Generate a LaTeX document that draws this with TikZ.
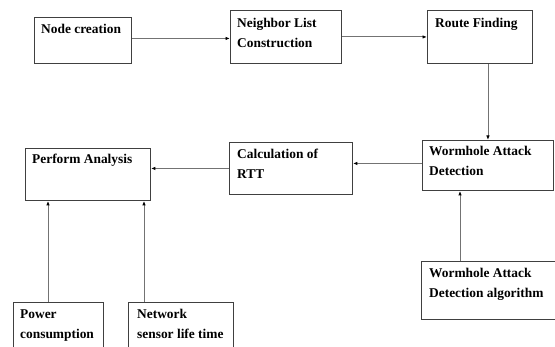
\documentclass[tikz,border=0pt]{standalone}
\usepackage{fontspec}
\setmainfont{Liberation Serif}
\usetikzlibrary{arrows.meta,calc}
\newcommand{\firststrut}{\rule{0pt}{9.5pt}}
\tikzset{
  box/.style={draw=black!75, line width=0.9pt, inner sep=0pt, anchor=north west},
  txt/.style={anchor=north west, inner sep=0pt, font=\fontsize{13.4}{20}\selectfont\bfseries, align=left},
  conn/.style={draw=black!55, line width=0.9pt, -{Latex[length=4.5pt,width=3.5pt,black]}}
}
\begin{document}
\begin{tikzpicture}[x=1pt,y=-1pt]
\useasboundingbox (0,0) rectangle (555,347);
\clip (0,0) rectangle (555,347);
\fill[white] (0,0) rectangle (555,347);
% boxes
\node[box, minimum width=97pt, minimum height=46pt] (nc) at (34,17) {};
\node[box, minimum width=111pt, minimum height=53pt] (nl) at (230,10) {};
\node[box, minimum width=105pt, minimum height=53pt] (rf) at (427,10) {};
\node[box, minimum width=131pt, minimum height=50pt] (wad) at (422,140) {};
\node[box, minimum width=123pt, minimum height=52pt] (rtt) at (229,142) {};
\node[box, minimum width=125pt, minimum height=52pt] (pa) at (25,148) {};
\node[box, minimum width=90pt, minimum height=60pt] (pc) at (13,302) {};
\node[box, minimum width=105pt, minimum height=60pt] (nw) at (128,302) {};
\node[box, minimum width=150pt, minimum height=58pt] (alg) at (421,261) {};
% texts (first baseline 9.5pt below the anchor)
\node[txt] (tnc) at ($(nc.north west)+(7,6.5)$) {\firststrut Node creation};
\node[txt] (tnl) at ($(nl.north west)+(7,7.5)$) {\firststrut Neighbor List\\Construction};
\node[txt] (trf) at ($(rf.north west)+(8,7.5)$) {\firststrut Route Finding};
\node[txt] (twad) at ($(wad.north west)+(7,5.5)$) {\firststrut Wormhole Attack\\Detection};
\node[txt] (trtt) at ($(rtt.north west)+(8,6.5)$) {\firststrut Calculation of\\RTT};
\node[txt] (tpa) at ($(pa.north west)+(7,5.5)$) {\firststrut Perform Analysis};
\node[txt] (tpc) at ($(pc.north west)+(7,6.5)$) {\firststrut Power\\consumption};
\node[txt] (tnw) at ($(nw.north west)+(9,6.5)$) {\firststrut Network\\sensor life time};
\node[txt] (talg) at ($(alg.north west)+(8,6.5)$) {\firststrut Wormhole Attack\\Detection algorithm};
% connectors
\draw[conn] ([yshift=2]nc.east) -- ([yshift=2]nc.east -| nl.west);
\draw[conn] (nl.east) -- (nl.east -| rf.west);
\draw[conn] (rf.south -| wad.north) -- (wad.north);
\draw[conn] ([yshift=2]wad.west) -- ([yshift=2]wad.west -| rtt.east);
\draw[conn] (rtt.west) -- (rtt.west -| pa.east);
\draw[conn] ([xshift=35]pc.north west) -- ([xshift=35]pc.north west |- pa.south);
\draw[conn] ([xshift=16]nw.north west) -- ([xshift=16]nw.north west |- pa.south);
\draw[conn] ([xshift=39]alg.north west) -- ([xshift=39]alg.north west |- wad.south);
\end{tikzpicture}
\end{document}
